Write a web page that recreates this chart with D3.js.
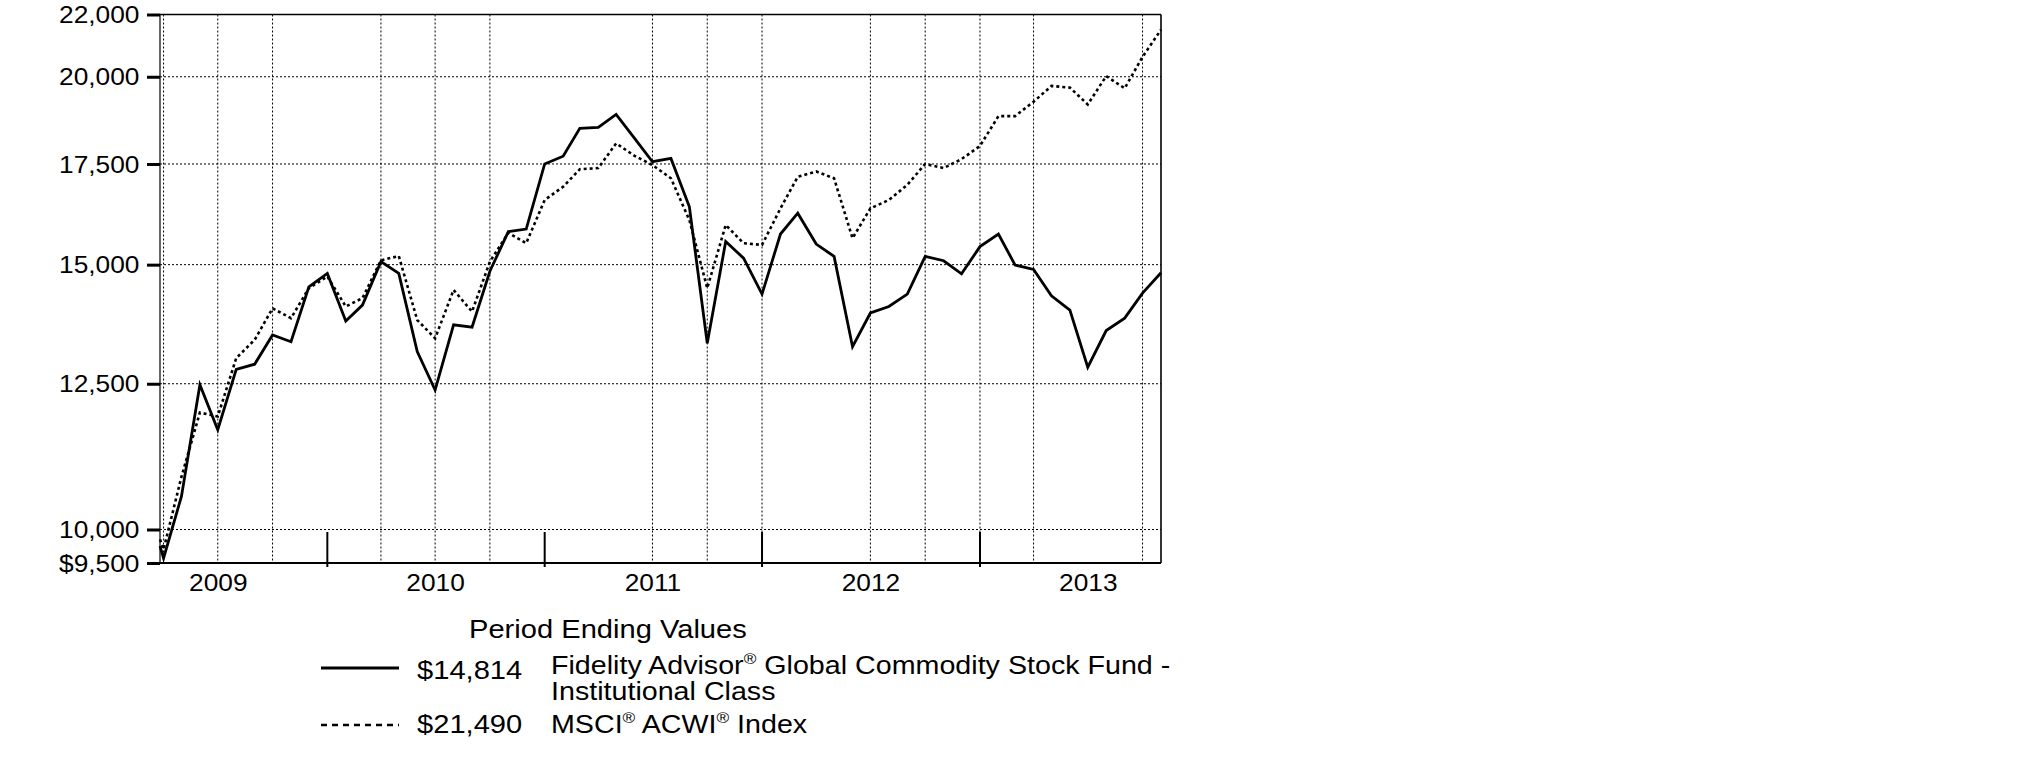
<!DOCTYPE html>
<html><head><meta charset="utf-8">
<script src="https://cdn.jsdelivr.net/npm/d3@7"></script>
<style>body{margin:0;background:#fff}svg{display:block}</style>
</head><body>
<svg id="c" width="2025" height="773"></svg>
<script>
// ---------- data ----------
const dates = [
 "2009-03-25","2009-03-31","2009-04-30","2009-05-31","2009-06-30","2009-07-31","2009-08-31","2009-09-30","2009-10-31","2009-11-30","2009-12-31",
 "2010-01-31","2010-02-28","2010-03-31","2010-04-30","2010-05-31","2010-06-30","2010-07-31","2010-08-31","2010-09-30","2010-10-31","2010-11-30","2010-12-31",
 "2011-01-31","2011-02-28","2011-03-31","2011-04-30","2011-05-31","2011-06-30","2011-07-31","2011-08-31","2011-09-30","2011-10-31","2011-11-30","2011-12-31",
 "2012-01-31","2012-02-29","2012-03-31","2012-04-30","2012-05-31","2012-06-30","2012-07-31","2012-08-31","2012-09-30","2012-10-31","2012-11-30","2012-12-31",
 "2013-01-31","2013-02-28","2013-03-31","2013-04-30","2013-05-31","2013-06-30","2013-07-31","2013-08-31","2013-09-30","2013-10-31"
];
const fundValues = [
 9750, 9570, 10520, 12480, 11650, 12780, 12880, 13470, 13330, 14500, 14800,
 13760, 14100, 15070, 14800, 13130, 12380, 13680, 13630, 14850, 15780, 15840, 17500,
 17710, 18480, 18510, 18880, 18200, 17560, 17650, 16390, 13300, 15540, 15150, 14340,
 15720, 16230, 15480, 15190, 13230, 13930, 14070, 14340, 15190, 15090, 14790, 15420,
 15720, 14990, 14890, 14300, 13990, 12820, 13560, 13820, 14360, 14814
];
const indexValues = [
 9850, 9700, 10840, 11960, 11890, 13000, 13370, 14030, 13820, 14470, 14730,
 14070, 14250, 15100, 15200, 13780, 13400, 14430, 13960, 15070, 15750, 15500, 16560,
 16900, 17360, 17390, 18060, 17720, 17470, 17120, 16060, 14470, 15940, 15500, 15460,
 16350, 17160, 17300, 17120, 15620, 16350, 16560, 16950, 17500, 17390, 17630, 17990,
 18830, 18830, 19250, 19720, 19670, 19170, 20020, 19650, 20620, 21490
];
const yTicks = [22000, 20000, 17500, 15000, 12500, 10000, 9500];
const yTickLabels = ["22,000","20,000","17,500","15,000","12,500","10,000","$9,500"];
const yGrid = [20000, 17500, 15000, 12500, 10000];
const xGridDates = ["2009-03-31","2009-06-30","2009-09-30","2010-03-31","2010-06-30","2010-09-30",
 "2011-06-30","2011-09-30","2011-12-31","2012-06-30","2012-09-30","2012-12-31","2013-03-31","2013-09-30"];
const yearTickDates = ["2009-12-31","2010-12-31","2011-12-31","2012-12-31"];
const yearLabelDates = ["2009-06-30","2010-06-30","2011-06-30","2012-06-30","2013-06-30"];
const yearLabels = ["2009","2010","2011","2012","2013"];
const legendTitle = "Period Ending Values";
const legendValues = ["$14,814", "$21,490"];
const legendNames = [["Fidelity Advisor® Global Commodity Stock Fund -", "Institutional Class"], ["MSCI® ACWI® Index"]];

// ---------- layout ----------
const FONT = "'Liberation Sans', Arial, Helvetica, sans-serif";
const SX = 1.12; // horizontal stretch of the reference text
const L = 160, R = 1161, T = 14.5, B = 563;
const parse = d3.utcParse("%Y-%m-%d");
const svg = d3.select("#c");

const x = d3.scaleUtc().domain([parse(dates[0]), parse(dates[dates.length-1])]).range([L, R]);
const y = d3.scaleLog().domain([9500, 22000]).range([B, T]);

// gridlines
const g = svg.append("g");
g.selectAll("line.hg").data(yGrid).join("line")
  .attr("x1", L).attr("x2", R).attr("y1", d => y(d)).attr("y2", d => y(d))
  .attr("stroke", "#000").attr("stroke-width", 1).attr("stroke-dasharray", "2,2");
g.selectAll("line.vg").data(xGridDates).join("line")
  .attr("x1", d => x(parse(d))).attr("x2", d => x(parse(d))).attr("y1", T).attr("y2", B)
  .attr("stroke", "#000").attr("stroke-width", 1).attr("stroke-dasharray", "2,2");

// series
const pts = vals => dates.map((d, i) => [parse(d), vals[i]]);
const line = d3.line().x(d => x(d[0])).y(d => y(d[1]));
svg.append("path").attr("d", line(pts(indexValues))).attr("fill", "none")
  .attr("stroke", "#000").attr("stroke-width", 2.6).attr("stroke-dasharray", "3,3");
svg.append("path").attr("d", line(pts(fundValues))).attr("fill", "none")
  .attr("stroke", "#000").attr("stroke-width", 2.8).attr("stroke-linejoin", "miter");

// frame
svg.append("line").attr("x1", L).attr("x2", R).attr("y1", T).attr("y2", T).attr("stroke", "#000").attr("stroke-width", 1.6);
svg.append("line").attr("x1", R).attr("x2", R).attr("y1", T).attr("y2", B).attr("stroke", "#000").attr("stroke-width", 1.6);
svg.append("line").attr("x1", L).attr("x2", L).attr("y1", T).attr("y2", B).attr("stroke", "#000").attr("stroke-width", 1.2);
svg.append("line").attr("x1", L).attr("x2", R).attr("y1", B).attr("y2", B).attr("stroke", "#000").attr("stroke-width", 2);

// year-end ticks
svg.selectAll("line.yt").data(yearTickDates).join("line")
  .attr("x1", d => x(parse(d))).attr("x2", d => x(parse(d))).attr("y1", 532).attr("y2", 567)
  .attr("stroke", "#000").attr("stroke-width", 2);

// y axis
const yAxis = d3.axisLeft(y).tickValues(yTicks).tickFormat((d, i) => yTickLabels[i]).tickSize(13).tickPadding(0);
const ya = svg.append("g").attr("transform", `translate(${L},0)`).call(yAxis);
ya.select(".domain").remove();
ya.selectAll(".tick line").attr("stroke", "#000").attr("stroke-width", 3);
ya.selectAll(".tick text").attr("x", null).attr("dy", "0.35em")
  .attr("transform", `translate(-20.5,0) scale(${SX},1)`)
  .attr("fill", "#000").style("font-family", FONT).style("font-size", "23.5px");

// x axis year labels
const xAxis = d3.axisBottom(x).tickValues(yearLabelDates.map(parse)).tickFormat((d, i) => yearLabels[i]).tickSize(0).tickPadding(0);
const xa = svg.append("g").attr("transform", `translate(0,${B})`).call(xAxis);
xa.select(".domain").remove();
xa.selectAll(".tick text").attr("y", null).attr("dy", null)
  .attr("transform", `translate(0,27.5) scale(${SX},1)`)
  .attr("fill", "#000").style("font-family", FONT).style("font-size", "23.5px");

// legend
function stretchedText(parent, tx, ty, size) {
  return parent.append("text").attr("transform", `translate(${tx},${ty}) scale(${SX},1)`)
    .attr("fill", "#000").style("font-family", FONT).style("font-size", size + "px");
}
function addWithReg(t, str, size) {
  const parts = str.split("®");
  const up = size * 0.38;
  parts.forEach((p, i) => {
    const s = t.append("tspan").text(p);
    if (i > 0) s.attr("dy", up);
    if (i < parts.length - 1) {
      t.append("tspan").text("®").attr("dy", -up).style("font-size", (size * 0.6) + "px");
    }
  });
}
const LS = 25.6;
const leg = svg.append("g");
stretchedText(leg, 469, 638, 26).text(legendTitle);
// sample lines
leg.append("line").attr("x1", 321).attr("x2", 399).attr("y1", 668).attr("y2", 668)
  .attr("stroke", "#000").attr("stroke-width", 2.8);
leg.append("line").attr("x1", 321).attr("x2", 399).attr("y1", 725).attr("y2", 725)
  .attr("stroke", "#000").attr("stroke-width", 2.6).attr("stroke-dasharray", "6,5");
stretchedText(leg, 417, 679, 26).text(legendValues[0]);
stretchedText(leg, 417, 733, 26).text(legendValues[1]);
addWithReg(stretchedText(leg, 551, 674, LS), legendNames[0][0], LS);
addWithReg(stretchedText(leg, 551, 700, LS), legendNames[0][1], LS);
addWithReg(stretchedText(leg, 551, 733, LS), legendNames[1][0], LS);
</script>
</body></html>
